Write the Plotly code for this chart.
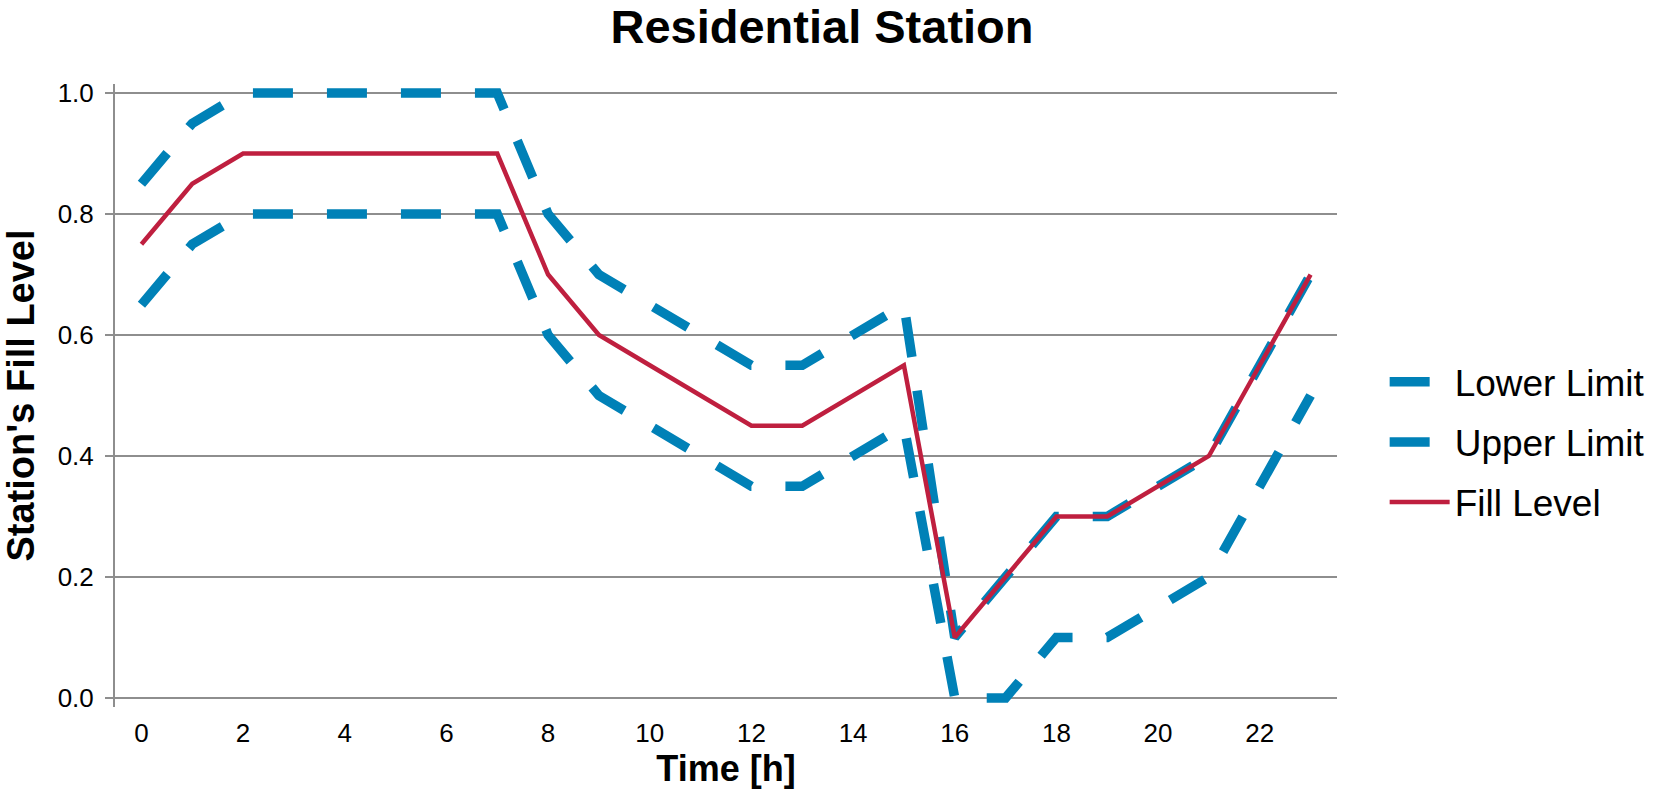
import plotly.graph_objects as go

# Hourly profile of a residential bike station
hours = list(range(24))
lower_limit = [0.65, 0.75, 0.80, 0.80, 0.80, 0.80, 0.80, 0.80, 0.60, 0.50, 0.45, 0.40,
               0.35, 0.35, 0.40, 0.45, 0.00, 0.00, 0.10, 0.10, 0.15, 0.20, 0.35, 0.50]
upper_limit = [0.85, 0.95, 1.00, 1.00, 1.00, 1.00, 1.00, 1.00, 0.80, 0.70, 0.65, 0.60,
               0.55, 0.55, 0.60, 0.65, 0.10, 0.20, 0.30, 0.30, 0.35, 0.40, 0.55, 0.70]
fill_level = [0.75, 0.85, 0.90, 0.90, 0.90, 0.90, 0.90, 0.90, 0.70, 0.60, 0.55, 0.50,
              0.45, 0.45, 0.50, 0.55, 0.10, 0.20, 0.30, 0.30, 0.35, 0.40, 0.55, 0.70]
x_ticks = [0, 2, 4, 6, 8, 10, 12, 14, 16, 18, 20, 22]
y_ticks = [0.0, 0.2, 0.4, 0.6, 0.8, 1.0]

FONT = "Liberation Sans, Arial, sans-serif"
BLUE = "#0081B7"
RED = "#BF1F3F"
GRID = "#8E8E8E"

fig = go.Figure()
fig.add_trace(go.Scatter(x=hours, y=lower_limit, name="Lower Limit", mode="lines",
                         legendgroup="a",
                         line=dict(color=BLUE, width=9.5, dash="40px,34px")))
fig.add_trace(go.Scatter(x=hours, y=upper_limit, name="Upper Limit", mode="lines",
                         legendgroup="b",
                         line=dict(color=BLUE, width=9.5, dash="40px,34px")))
fig.add_trace(go.Scatter(x=hours, y=fill_level, name="Fill Level", mode="lines",
                         legendgroup="c",
                         line=dict(color=RED, width=4.5)))

fig.update_layout(
    width=1664, height=796,
    paper_bgcolor="white", plot_bgcolor="white",
    margin=dict(l=115, r=327, t=84, b=89),
    font=dict(family=FONT, color="black", size=26),
    title=dict(text="Residential Station", x=0.494, xanchor="center",
               y=0.967, yanchor="middle", yref="container",
               font=dict(size=47, weight="bold", family=FONT)),
    legend=dict(x=1.039, xanchor="left", y=0.425, yanchor="middle",
                font=dict(size=37, family=FONT), traceorder="grouped",
                tracegroupgap=9, itemwidth=60, bgcolor="rgba(0,0,0,0)"),
    showlegend=True,
)

fig.update_xaxes(range=[-0.52, 23.52], tickvals=x_ticks, ticktext=[str(v) for v in x_ticks],
                 showgrid=False, zeroline=False, showline=False, ticks="",
                 ticklabelstandoff=8, tickfont=dict(size=26),
                 title=dict(text="Time [h]", standoff=8,
                            font=dict(size=36, weight="bold", family=FONT)))
fig.update_yaxes(range=[-0.015, 1.015], tickvals=y_ticks, ticktext=[f"{v:.1f}" for v in y_ticks],
                 showgrid=True, gridcolor=GRID, gridwidth=2,
                 zeroline=True, zerolinecolor=GRID, zerolinewidth=2,
                 showline=True, linecolor=GRID, linewidth=2,
                 ticks="outside", ticklen=8, tickwidth=2, tickcolor=GRID,
                 ticklabelstandoff=6, tickfont=dict(size=26),
                 title=dict(text="Station's Fill Level", standoff=12,
                            font=dict(size=38, weight="bold", family=FONT)))

fig.write_html("out.html")
